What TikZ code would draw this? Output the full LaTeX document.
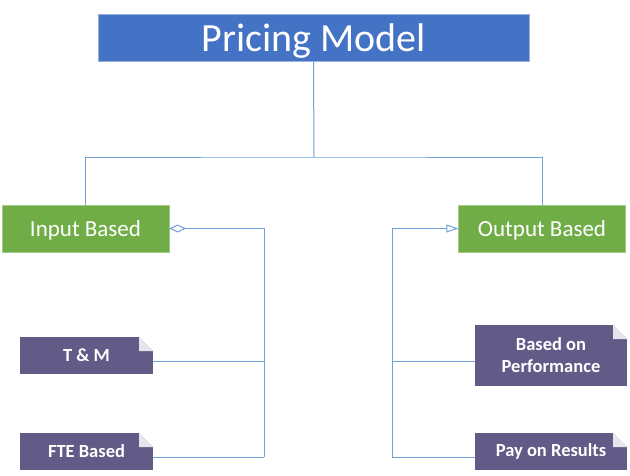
\documentclass[tikz,border=0pt]{standalone}
\usepackage{fontspec}
\setmainfont{Carlito}
\usetikzlibrary{arrows.meta}

\definecolor{headblue}{HTML}{4472C4}
\definecolor{kindgreen}{HTML}{70AD47}
\definecolor{leafpurple}{HTML}{625A87}
\definecolor{foldgray}{HTML}{E6E4EC}
\definecolor{wireblue}{HTML}{6FA0D8}

\tikzset{
  head/.style={fill=headblue, draw=headblue!55!white, text=white, inner sep=0pt,
    minimum width=431pt, minimum height=47pt, text height=27pt, text depth=0pt,
    font=\fontsize{40}{48}\selectfont},
  kind/.style={fill=kindgreen, draw=kindgreen!65!white, text=white, inner sep=0pt,
    minimum width=167pt, minimum height=47pt, text height=16pt, text depth=0pt,
    font=\fontsize{23}{28}\selectfont},
  leaf/.style={fill=leafpurple, text=white, inner sep=0pt, align=center,
    font=\bfseries\fontsize{18.5}{22}\selectfont,
    path picture={
      \fill[white] ([xshift=-14pt]path picture bounding box.north east)
        -- (path picture bounding box.north east)
        -- ([yshift=-14pt]path picture bounding box.north east) -- cycle;
      \fill[foldgray] ([xshift=-14pt]path picture bounding box.north east)
        -- ([xshift=-14pt,yshift=-14pt]path picture bounding box.north east)
        -- ([yshift=-14pt]path picture bounding box.north east) -- cycle;
    }},
  wire/.style={draw=wireblue, line width=1pt}
}

\begin{document}
\begin{tikzpicture}[x=1pt,y=-1pt]
\useasboundingbox (0,0) rectangle (630,475);

% boxes
\node[head] (pm) at (313.5,37.5) {Pricing Model};
\node[kind] (inb) at (85.5,228.5) {Input Based};
\node[kind] (outb) at (542,228.5) {Output Based};
\node[leaf, minimum width=133pt, minimum height=37pt] (tm) at (86.5,355.5) {T \& M};
\node[leaf, minimum width=133pt, minimum height=37pt] (fte) at (86.5,451.5) {FTE Based};
\node[leaf, minimum width=152pt, minimum height=61pt] (bop) at (551,355.5) {Based on\\Performance};
\node[leaf, minimum width=152pt, minimum height=37pt] (por) at (551,451.5) {Pay on Results};

% junctions
\coordinate (split) at (314,157);
\coordinate (lbus) at (264,457);
\coordinate (rbus) at (392,457);

% connectors
\draw[wire] (pm.south) -- (split);
\draw[wire] (inb.north) |- (split) -| (outb.north);
\draw[wire, {Diamond[open,fill=white,length=17pt,width=8pt]}-] (inb.east) -| (lbus);
\draw[wire] ([yshift=-5.5pt]tm.east) -- ([yshift=-5.5pt]tm.east -| lbus);
\draw[wire] ([yshift=-5.5pt]fte.east) -- (lbus);
\draw[wire, -{Triangle[open,fill=white,length=12pt,width=8pt]}] (rbus) |- (outb.west);
\draw[wire] ([yshift=-6pt]bop.west -| rbus) -- ([yshift=-6pt]bop.west);
\draw[wire] (rbus) -- ([yshift=-5.5pt]por.west);
\end{tikzpicture}
\end{document}
